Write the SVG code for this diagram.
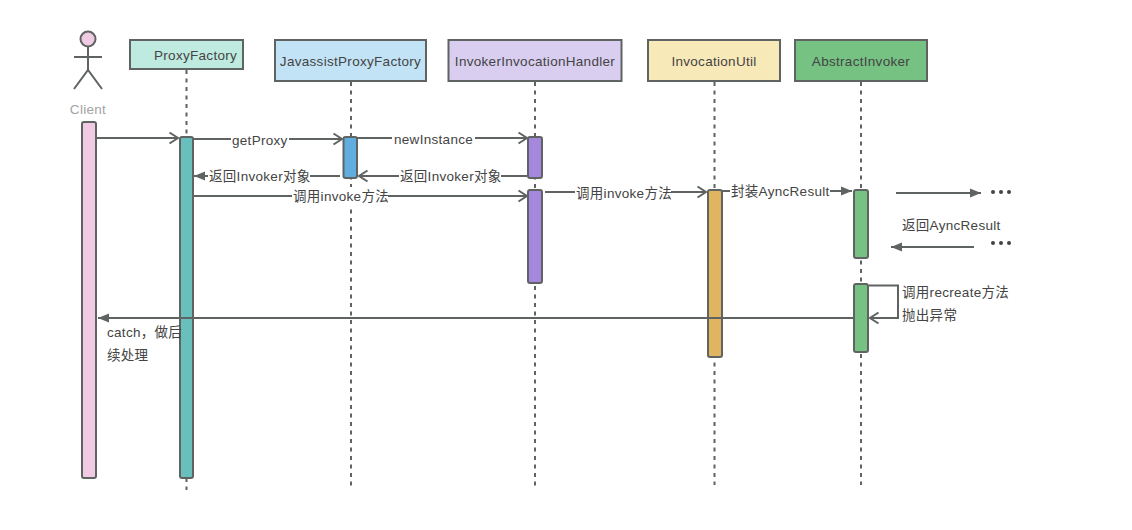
<svg xmlns="http://www.w3.org/2000/svg" width="1132" height="530" viewBox="0 0 1132 530">
  <style>
    text { font-family: "Liberation Sans", "Noto Sans CJK SC", sans-serif; font-size: 13.5px; fill: #444; letter-spacing: 0.3px; }
    .name { text-anchor: middle; }
    .mid { text-anchor: middle; }
    .head { stroke: #5f6362; stroke-width: 2; }
    .life { stroke: #5f6362; stroke-width: 2; stroke-dasharray: 4 4.5; fill: none; }
    .bar { stroke: #5f6362; stroke-width: 2; }
    .line { stroke: #5f6362; stroke-width: 2; fill: none; }
    .gap { fill: #fff; }
    .dot { fill: #444; }
  </style>
  <defs>
    <marker id="open" markerUnits="userSpaceOnUse" markerWidth="12" markerHeight="14" refX="10" refY="7" orient="auto">
      <path d="M1.500 1.500 L10 7 L1.500 12.500" fill="none" stroke="#5f6362" stroke-width="2"/>
    </marker>
    <marker id="solid" markerUnits="userSpaceOnUse" markerWidth="12" markerHeight="12" refX="11" refY="6" orient="auto">
      <path d="M0 1.500 L11 6 L0 10.500 Z" fill="#5f6362"/>
    </marker>
  </defs>
  <rect width="1132" height="530" fill="#fff"/>

  <g id="lifelines">
    <line class="life" x1="186.500" y1="70" x2="186.500" y2="490"/>
    <line class="life" x1="351" y1="82" x2="351" y2="490"/>
    <line class="life" x1="535" y1="82" x2="535" y2="490"/>
    <line class="life" x1="714.500" y1="82" x2="714.500" y2="485"/>
    <line class="life" x1="861" y1="82" x2="861" y2="485"/>
  </g>

  <g id="client">
    <circle cx="88" cy="39" r="7.500" fill="#f0cbe3" stroke="#5f6362" stroke-width="2"/>
    <path d="M88 46.500 V70 M74 57 H102 M74 89 L88 70 L102 89" fill="none" stroke="#5f6362" stroke-width="2"/>
    <text class="mid" x="88" y="114" style="fill:#a3a3a3">Client</text>
    <rect class="bar" x="82" y="122" width="14" height="356" rx="2" fill="#f0cbe3"/>
  </g>
  <g id="proxy-factory">
    <rect class="head" x="130" y="40" width="113" height="29" fill="#bfeadf"/>
    <text x="154" y="60">ProxyFactory</text>
    <rect class="bar" x="180" y="137" width="13" height="341" rx="2" fill="#68bfbb"/>
  </g>
  <g id="javassist-proxy-factory">
    <rect class="head" x="275" y="40" width="151" height="41" fill="#c2e3f5"/>
    <text class="name" x="350.500" y="66">JavassistProxyFactory</text>
    <rect class="bar" x="343.500" y="137" width="13.500" height="41" rx="2" fill="#61addf"/>
  </g>
  <g id="invoker-invocation-handler">
    <rect class="head" x="448.500" y="40" width="173" height="41" fill="#d9cef0"/>
    <text class="name" x="535" y="66">InvokerInvocationHandler</text>
    <rect class="bar" x="528" y="137" width="14" height="41" rx="2" fill="#a588de"/>
    <rect class="bar" x="528" y="190" width="14" height="93" rx="2" fill="#a588de"/>
  </g>
  <g id="invocation-util">
    <rect class="head" x="648" y="40" width="132" height="41" fill="#f8e9b9"/>
    <text class="name" x="714" y="66">InvocationUtil</text>
    <rect class="bar" x="708" y="190" width="14" height="167" rx="2" fill="#e0b562"/>
  </g>
  <g id="abstract-invoker">
    <rect class="head" x="795" y="40" width="132" height="41" fill="#75c283"/>
    <text class="name" x="861" y="66">AbstractInvoker</text>
    <rect class="bar" x="854" y="190" width="14" height="68" rx="2" fill="#75c283"/>
    <rect class="bar" x="854" y="284" width="14" height="68" rx="2" fill="#75c283"/>
  </g>

  <g id="connectors">
    <line class="line" x1="96" y1="138" x2="178" y2="138" marker-end="url(#open)"/>

    <line class="line" x1="193" y1="139" x2="342" y2="139" marker-end="url(#open)"/>
    <rect class="gap" x="231" y="130" width="58" height="18"/>
    <text x="232" y="145">getProxy</text>

    <line class="line" x1="357" y1="138" x2="527" y2="138" marker-end="url(#open)"/>
    <rect class="gap" x="392" y="130" width="83" height="18"/>
    <text x="394" y="144">newInstance</text>

    <line class="line" x1="340" y1="176" x2="194" y2="176" marker-end="url(#solid)"/>
    <rect class="gap" x="208" y="167" width="102" height="18"/>
    <text x="209" y="181">返回Invoker对象</text>

    <line class="line" x1="527" y1="176" x2="359" y2="176" marker-end="url(#open)"/>
    <rect class="gap" x="399" y="167" width="102" height="18"/>
    <text x="400" y="181">返回Invoker对象</text>

    <line class="line" x1="193" y1="196" x2="527" y2="196" marker-end="url(#open)"/>
    <rect class="gap" x="292" y="187" width="96" height="18"/>
    <text x="293" y="201">调用invoke方法</text>

    <line class="line" x1="545" y1="192" x2="706" y2="192" marker-end="url(#open)"/>
    <rect class="gap" x="575" y="184" width="96" height="18"/>
    <text x="576" y="197.500">调用invoke方法</text>

    <line class="line" x1="722" y1="191" x2="852" y2="191" marker-end="url(#solid)"/>
    <rect class="gap" x="730" y="183" width="100" height="18"/>
    <text x="731" y="196">封装AyncResult</text>

    <line class="line" x1="896" y1="193" x2="981" y2="193" marker-end="url(#solid)"/>
    <line class="line" x1="974" y1="247" x2="891" y2="247" marker-end="url(#solid)"/>

    <path class="line" d="M869 285.500 H898 V318 H870" marker-end="url(#open)"/>
    <line class="line" x1="854" y1="318" x2="98" y2="318" marker-end="url(#solid)"/>
  </g>

  <g id="notes">
    <circle class="dot" cx="993" cy="192" r="2"/>
    <circle class="dot" cx="1001" cy="192" r="2"/>
    <circle class="dot" cx="1009" cy="192" r="2"/>
    <circle class="dot" cx="993" cy="243" r="2"/>
    <circle class="dot" cx="1001" cy="243" r="2"/>
    <circle class="dot" cx="1009" cy="243" r="2"/>
    <text x="902" y="230">返回AyncResult</text>
    <text x="902" y="297">调用recreate方法</text>
    <text x="902" y="320">抛出异常</text>
    <text x="107" y="337">catch，做后</text>
    <text x="107" y="360">续处理</text>
  </g>
</svg>
